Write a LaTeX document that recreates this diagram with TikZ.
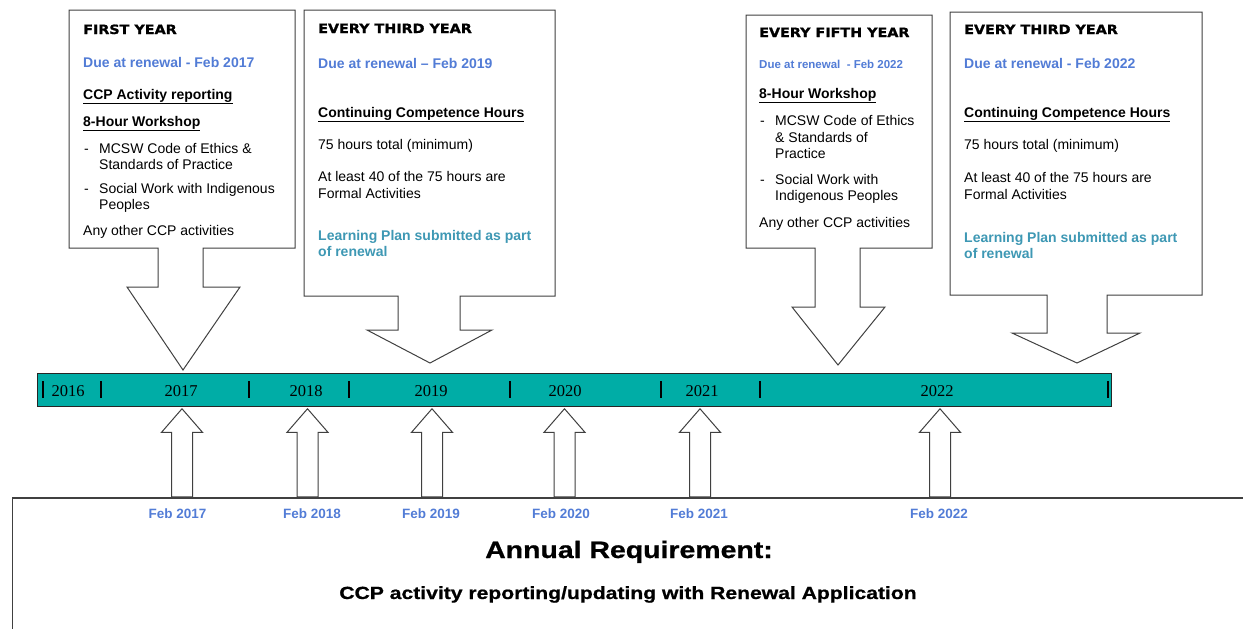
\documentclass[tikz,border=0pt]{standalone}
\usepackage{fontspec}
\setmainfont{Liberation Sans}
\newfontfamily\headfont[FakeStretch=1.12,FakeBold=1.2]{DejaVu Sans}
\newfontfamily\yearfont{Liberation Serif}
\newfontfamily\widefont[FakeStretch=1.2,FakeBold=0.8]{Liberation Sans}
\usetikzlibrary{shapes.arrows}

\definecolor{duebl}{RGB}{82,124,214}
\definecolor{planbl}{RGB}{62,152,180}
\definecolor{barteal}{RGB}{0,173,166}
\definecolor{edgegr}{RGB}{64,64,64}

\newcommand\boxhead[1]{{\headfont\bfseries\fontsize{12.8}{16}\selectfont #1}}
\newcommand\dueline[1]{{\color{duebl}\bfseries #1}}
\newcommand\ulhead[1]{{\bfseries\underline{#1}}}
\newcommand\planline[1]{{\color{planbl}\bfseries #1}}
\newcommand\dashmark{\makebox[16pt][l]{\hspace{1pt}-}}
\newcommand\indentmark{\hspace*{16pt}}

\begin{document}
\begin{tikzpicture}[x=1pt,y=-1pt,
    calloutframe/.style={draw=edgegr,line width=1pt,fill=white},
    % multi-line text sits on the baseline of its last line
    boxtext/.style={anchor=base west,align=left,inner sep=0pt,font=\fontsize{14}{16}\selectfont},
    timebar/.style={draw=black!85,line width=1pt,fill=barteal,minimum width=1074pt,
                    minimum height=33pt,inner sep=0pt},
    yearlabel/.style={anchor=base,font=\yearfont\fontsize{16.5}{18}\selectfont},
    uparrow/.style={single arrow,draw=edgegr,line width=1pt,fill=white,shape border rotate=90,
                    minimum height=88pt,minimum width=40pt,single arrow head extend=10pt,
                    single arrow tip angle=82,inner sep=10pt,anchor=tip},
    feblabel/.style={anchor=base,text=duebl,font=\bfseries\fontsize{13.5}{16}\selectfont}]

  \useasboundingbox (0,0) rectangle (1243,629);

  % the four requirement callouts
  \draw[calloutframe] (69,10) -- (295,10) -- (295,248) -- (203,248) -- (203,287) -- (240,287)
    -- (183,370) -- (127,287) -- (158,287) -- (158,248) -- (69,248) -- cycle;
  \draw[calloutframe] (304,10) -- (555,10) -- (555,296) -- (460,296) -- (460,330) -- (492,330)
    -- (430,363) -- (367,330) -- (398,330) -- (398,296) -- (304,296) -- cycle;
  \draw[calloutframe] (746,15) -- (932,15) -- (932,248) -- (860,248) -- (860,307) -- (885,307)
    -- (838,365) -- (792,307) -- (815,307) -- (815,248) -- (746,248) -- cycle;
  \draw[calloutframe] (950,12) -- (1202,12) -- (1202,295) -- (1107,295) -- (1107,333) -- (1140,333)
    -- (1077,363) -- (1012,333) -- (1047,333) -- (1047,295) -- (950,295) -- cycle;

  \node[boxtext] (first) at (83,235) {\boxhead{FIRST YEAR}\\[17pt]
    \dueline{Due at renewal - Feb 2017}\\[16pt]
    \ulhead{CCP Activity reporting}\\[11pt]
    \ulhead{8-Hour Workshop}\\[11pt]
    \dashmark MCSW Code of Ethics \&\\
    \indentmark Standards of Practice\\[8pt]
    \dashmark Social Work with Indigenous\\
    \indentmark Peoples\\[10pt]
    Any other CCP activities};

  \node[boxtext] (thirdA) at (318,256) {\boxhead{EVERY THIRD YEAR}\\[19pt]
    \dueline{Due at renewal -- Feb 2019}\\[33pt]
    \ulhead{Continuing Competence Hours}\\[16pt]
    75 hours total (minimum)\\[16pt]
    At least 40 of the 75 hours are\\[1pt]
    Formal Activities\\[26pt]
    \planline{Learning Plan submitted as part}\\
    \planline{of renewal}};

  \node[boxtext] (fifth) at (759,227) {\boxhead{EVERY FIFTH YEAR}\\[15pt]
    {\fontsize{11.5}{16}\selectfont\dueline{Due at renewal~ - Feb 2022}}\\[14pt]
    \ulhead{8-Hour Workshop}\\[11pt]
    \dashmark MCSW Code of Ethics\\[1pt]
    \indentmark\& Standards of\\
    \indentmark Practice\\[10pt]
    \dashmark Social Work with\\
    \indentmark Indigenous Peoples\\[11pt]
    Any other CCP activities};

  \node[boxtext] (thirdB) at (964,258) {\boxhead{EVERY THIRD YEAR}\\[18pt]
    \dueline{Due at renewal - Feb 2022}\\[33pt]
    \ulhead{Continuing Competence Hours}\\[16pt]
    75 hours total (minimum)\\[17pt]
    At least 40 of the 75 hours are\\[1pt]
    Formal Activities\\[27pt]
    \planline{Learning Plan submitted as part}\\
    \planline{of renewal}};

  % timeline
  \node[timebar] (bar) at (574,389.5) {};
  \draw[line width=1.5pt] (43,381) -- (43,398) (101,381) -- (101,398) (249,381) -- (249,398)
    (349,381) -- (349,398) (510,381) -- (510,398) (661,381) -- (661,398) (760,381) -- (760,398)
    (1108,381) -- (1108,398);
  \node[yearlabel] (y2016) at (68,396)  {2016};
  \node[yearlabel] (y2017) at (181,396) {2017};
  \node[yearlabel] (y2018) at (306,396) {2018};
  \node[yearlabel] (y2019) at (431,396) {2019};
  \node[yearlabel] (y2020) at (565,396) {2020};
  \node[yearlabel] (y2021) at (702,396) {2021};
  \node[yearlabel] (y2022) at (937,396) {2022};

  % annual box
  \draw[edgegr,line width=2pt] (12,498) -- (1243,498);
  \draw[edgegr,line width=1pt] (12,498) -- (12,629);

  \node[uparrow] (up2017) at (182,408)   {};
  \node[uparrow] (up2018) at (307.5,408) {};
  \node[uparrow] (up2019) at (432,408)   {};
  \node[uparrow] (up2020) at (564.5,408) {};
  \node[uparrow] (up2021) at (700,408)   {};
  \node[uparrow] (up2022) at (940,408)   {};

  \node[feblabel] (feb2017) at (177.5,518) {Feb 2017};
  \node[feblabel] (feb2018) at (312,518)   {Feb 2018};
  \node[feblabel] (feb2019) at (431,518)   {Feb 2019};
  \node[feblabel] (feb2020) at (561,518)   {Feb 2020};
  \node[feblabel] (feb2021) at (699,518)   {Feb 2021};
  \node[feblabel] (feb2022) at (939,518)   {Feb 2022};

  \node[anchor=base,font=\widefont\bfseries\fontsize{23.7}{28}\selectfont] (annual)
    at (629,558) {Annual Requirement:};
  \node[anchor=base,font=\widefont\bfseries\fontsize{17.6}{21}\selectfont] (renewal)
    at (628,599) {CCP activity reporting/updating with Renewal Application};
\end{tikzpicture}
\end{document}
